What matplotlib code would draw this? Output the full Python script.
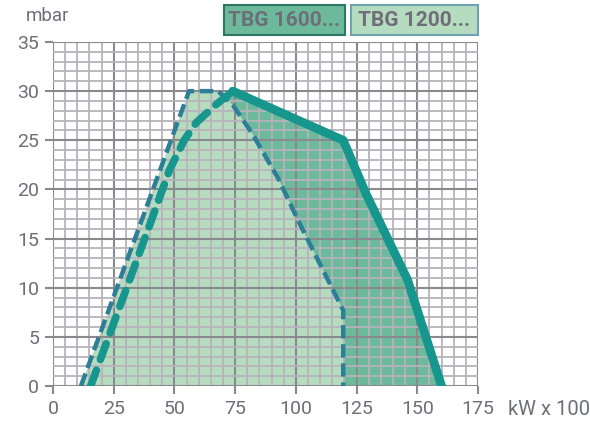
import matplotlib
matplotlib.use("Agg")
import matplotlib.pyplot as plt
from matplotlib.patches import Rectangle
from matplotlib.ticker import MultipleLocator

plt.rcParams['font.family'] = ['Roboto', 'DejaVu Sans']

# Data (kW x 100, mbar)
tbg1200_x = [11.5, 56, 68, 74, 82, 93, 101, 119.5, 119.5]
tbg1200_y = [0, 30, 30, 28.6, 25.7, 21, 16.8, 7.7, 0]

tbg1600_dash_x = [15.5, 40, 48, 54, 59, 67, 74]
tbg1600_dash_y = [0, 16.5, 22, 25, 26.8, 28.6, 30]
tbg1600_solid_x = [74, 119.5, 129, 146, 160]
tbg1600_solid_y = [30, 25, 19.5, 10.8, 0]

x_ticks = [0, 25, 50, 75, 100, 125, 150, 175]
y_ticks = [0, 5, 10, 15, 20, 25, 30, 35]
legend_labels = ["TBG 1600...", "TBG 1200..."]

c_teal = "#16968c"
c_blue = "#2c7f97"
c_fill1600 = "#6cba9b"
c_fill1200 = "#b6dcc0"
c_text = "#6e6e78"

W, H = 590, 423
fig = plt.figure(figsize=(W / 100, H / 100), dpi=100)
ax = fig.add_axes([53 / W, 1 - 386 / H, (478 - 53) / W, (386 - 42) / H])
ax.set_xlim(0, 175)
ax.set_ylim(0, 35)

# fills
ax.fill(tbg1600_dash_x + tbg1600_solid_x[1:], tbg1600_dash_y + tbg1600_solid_y[1:],
        color=c_fill1600, lw=0, zorder=1)
ax.fill(tbg1200_x, tbg1200_y, color=c_fill1200, lw=0, zorder=1.2)

# grid
ax.xaxis.set_major_locator(MultipleLocator(25))
ax.xaxis.set_minor_locator(MultipleLocator(5))
ax.yaxis.set_major_locator(MultipleLocator(5))
ax.yaxis.set_minor_locator(MultipleLocator(1))
ax.set_axisbelow(False)
ax.grid(which="minor", color="#b6b3bb", lw=1.3)
ax.grid(which="major", color="#8a8a8e", lw=1.5)
for s in ax.spines.values():
    s.set_visible(False)
ax.tick_params(which="minor", length=0)
ax.tick_params(which="major", length=6, width=1.5, color="#8a8a8e",
               labelcolor=c_text, labelsize=14, pad=4)
ax.set_xticks(x_ticks)
ax.set_yticks(y_ticks)

# lines
ax.plot(tbg1200_x, tbg1200_y, color=c_blue, lw=3.2, dashes=(3, 1.3),
        solid_capstyle="butt", zorder=3)
ax.plot(tbg1600_dash_x, tbg1600_dash_y, color=c_teal, lw=5.5, dashes=(2.2, 1.5),
        dash_capstyle="round", zorder=4)
ax.plot(tbg1600_solid_x, tbg1600_solid_y, color=c_teal, lw=6.3, solid_capstyle="round",
        solid_joinstyle="round", zorder=4)

# axis titles
fig.text(26 / W, 1 - 16 / H, "mbar", color=c_text, fontsize=13.5, ha="left", va="center")
fig.text(508 / W, 1 - 409 / H, "kW x 100", color=c_text, fontsize=14.5, ha="left", va="center")

# legend boxes
boxes = [(224, 345, c_fill1600, "#2d7564"), (351, 478, c_fill1200, "#6fa3b3")]
for (x0, x1, fc, ec), lab in zip(boxes, legend_labels):
    r = Rectangle((x0 / W, 1 - 35 / H), (x1 - x0) / W, 30 / H, transform=fig.transFigure,
                  facecolor=fc, edgecolor=ec, lw=1.5)
    fig.add_artist(r)
    fig.text((x0 + x1) / 2 / W, 1 - 20 / H, lab, color=c_text, fontsize=15,
             fontweight="bold", ha="center", va="center")

fig.savefig("out.png", dpi=100)
